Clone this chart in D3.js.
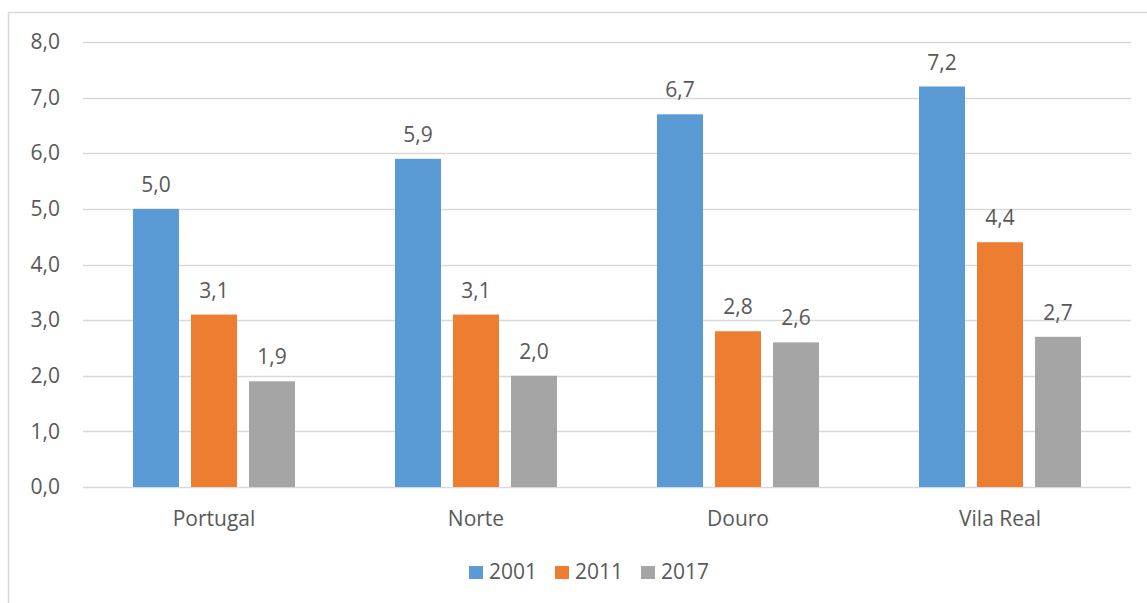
<!DOCTYPE html>
<html>
<head>
<meta charset="utf-8">
<script src="https://cdn.jsdelivr.net/npm/d3@7"></script>
<style>
  html, body { margin: 0; padding: 0; background: #fff; }
  svg { display: block; }
  text { font-family: "Open Sans", "Liberation Sans", sans-serif; fill: #595959; }
</style>
</head>
<body>
<svg id="chart" width="1147" height="603"></svg>
<script>
const categories = ["Portugal", "Norte", "Douro", "Vila Real"];
const seriesNames = ["2001", "2011", "2017"];
const values2001 = [5.0, 5.9, 6.7, 7.2];
const values2011 = [3.1, 3.1, 2.8, 4.4];
const values2017 = [1.9, 2.0, 2.6, 2.7];
const yTicks = [0, 1, 2, 3, 4, 5, 6, 7, 8];
const colors = ["#5B9BD5", "#ED7D31", "#A5A5A5"];

const seriesValues = [values2001, values2011, values2017];
const fmt = v => v.toFixed(1).replace(".", ",");
const FONT = "'Open Sans', 'Liberation Sans', sans-serif";
const FS = "21px";

const svg = d3.select("#chart");

// chart frame
svg.append("rect")
  .attr("x", 8.5).attr("y", 12.5)
  .attr("width", 1150).attr("height", 600)
  .attr("fill", "none").attr("stroke", "#D9D9D9").attr("stroke-width", 1.5);

const plot = { left: 83, right: 1131, top: 42, bottom: 487 };

const x = d3.scaleBand().domain(categories).range([plot.left, plot.right]);
const y = d3.scaleLinear().domain([0, 8]).range([plot.bottom, plot.top]);

// gridlines
svg.append("g").selectAll("line").data(yTicks).join("line")
  .attr("x1", plot.left).attr("x2", plot.right)
  .attr("y1", d => Math.round(y(d)) + 0.5).attr("y2", d => Math.round(y(d)) + 0.5)
  .attr("stroke", "#D9D9D9").attr("stroke-width", 1.5);

// y axis labels
const yAxis = d3.axisLeft(y).tickValues(yTicks).tickFormat(fmt).tickSize(0).tickPadding(0);
const yg = svg.append("g").attr("transform", `translate(60,0)`).call(yAxis);
yg.select(".domain").remove();
yg.selectAll("text").style("font-size", FS).attr("fill", "#595959").style("font-family", FONT);

// category labels
const xAxis = d3.axisBottom(x).tickSize(0).tickPadding(0);
const xg = svg.append("g").attr("transform", `translate(0,${plot.bottom})`).call(xAxis);
xg.select(".domain").remove();
xg.selectAll("text").attr("dy", null).attr("y", 39)
  .style("font-size", FS).attr("fill", "#595959").style("font-family", FONT);

// bars inside each group
const barW = 46, gap = 12;
const inner = d3.scaleBand().domain(seriesNames)
  .range([-(barW * 1.5 + gap), barW * 1.5 + gap]).paddingInner(gap / (barW + gap));

const groups = svg.append("g").selectAll("g").data(categories).join("g")
  .attr("transform", d => `translate(${x(d) + x.bandwidth() / 2},0)`);

seriesNames.forEach((s, si) => {
  groups.append("rect")
    .attr("x", inner(s))
    .attr("width", inner.bandwidth())
    .attr("y", (d, i) => y(seriesValues[si][i]))
    .attr("height", (d, i) => y(0) - y(seriesValues[si][i]))
    .attr("fill", colors[si]);
  groups.append("text")
    .attr("x", inner(s) + inner.bandwidth() / 2)
    .attr("y", (d, i) => y(seriesValues[si][i]) - 17)
    .attr("text-anchor", "middle")
    .style("font-size", FS)
    .text((d, i) => fmt(seriesValues[si][i]));
});

// legend
const legendX = [469, 555, 641];
const legend = svg.append("g").selectAll("g").data(seriesNames).join("g")
  .attr("transform", (d, i) => `translate(${legendX[i]},566)`);
legend.append("rect").attr("width", 14).attr("height", 13)
  .attr("fill", (d, i) => colors[i]);
legend.append("text").attr("x", 20).attr("y", 13)
  .style("font-size", FS)
  .text(d => d);
</script>
</body>
</html>
